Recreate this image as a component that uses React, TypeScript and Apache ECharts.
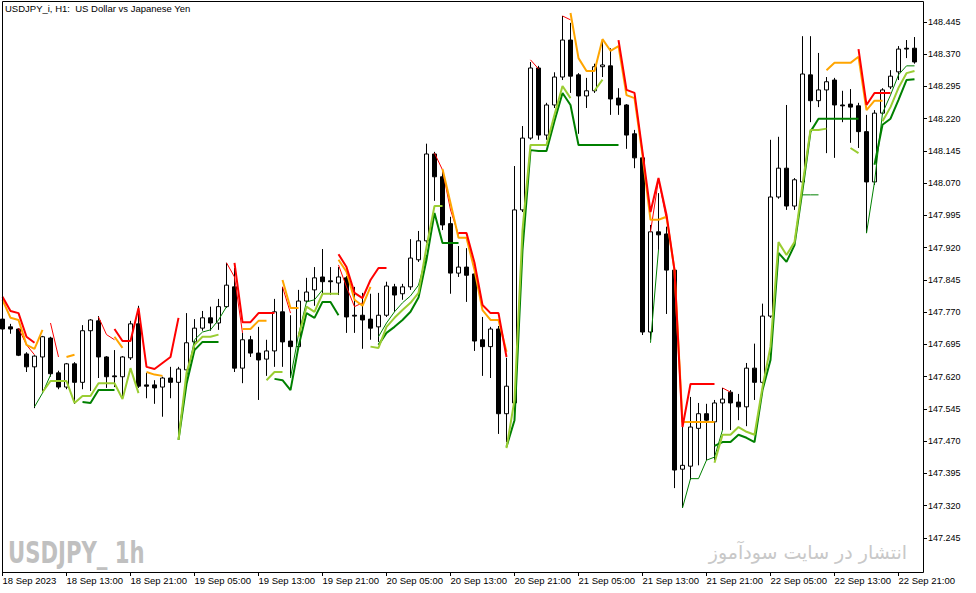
import { useEffect, useRef } from 'react';
import * as echarts from 'echarts';

// time axis labels (every 8th hourly bar)
const tickLabels = [
  '18 Sep 2023', '18 Sep 13:00', '18 Sep 21:00', '19 Sep 05:00', '19 Sep 13:00',
  '19 Sep 21:00', '20 Sep 05:00', '20 Sep 13:00', '20 Sep 21:00', '21 Sep 05:00',
  '21 Sep 13:00', '21 Sep 21:00', '22 Sep 05:00', '22 Sep 13:00', '22 Sep 21:00',
];

const priceTicks = [
  147.245, 147.32, 147.395, 147.47, 147.545, 147.62, 147.695, 147.77, 147.845,
  147.92, 147.995, 148.07, 148.145, 148.22, 148.295, 148.37, 148.445,
];

const opens = [
  147.754, 147.736, 147.731, 147.673, 147.643, 147.666, 147.710, 147.629, 147.596, 147.650,
  147.607, 147.727, 147.750, 147.666, 147.622, 147.620, 147.664, 147.743, 147.601, 147.601,
  147.596, 147.617, 147.607, 147.636, 147.701, 147.733, 147.757, 147.745, 147.783, 147.829,
  147.640, 147.706, 147.675, 147.661, 147.680, 147.771, 147.703, 147.690, 147.796, 147.822,
  147.852, 147.843, 147.838, 147.850, 147.763, 147.763, 147.754, 147.736, 147.763, 147.829,
  147.813, 147.829, 147.892, 147.936, 148.138, 148.085, 147.976, 147.861, 147.875, 147.859,
  147.706, 147.690, 147.731, 147.534, 147.559, 148.008, 148.175, 148.338, 148.182, 148.252,
  148.317, 148.403, 148.322, 148.273, 148.285, 148.341, 148.343, 148.268, 148.252, 148.185,
  148.129, 147.724, 147.957, 147.952, 147.868, 147.405, 147.412, 147.500, 147.534, 147.515,
  147.559, 147.584, 147.561, 147.550, 147.640, 147.607, 147.761, 148.038, 148.105, 148.017,
  148.073, 148.322, 148.262, 148.287, 148.310, 148.252, 148.254, 148.250, 148.190, 148.073,
  148.233, 148.294, 148.329, 148.384, 148.384,
];

const closes = [
  147.731, 147.731, 147.670, 147.643, 147.668, 147.713, 147.627, 147.596, 147.650, 147.607,
  147.727, 147.752, 147.666, 147.620, 147.620, 147.666, 147.743, 147.598, 147.598, 147.594,
  147.617, 147.607, 147.638, 147.699, 147.733, 147.757, 147.745, 147.783, 147.833, 147.640,
  147.706, 147.675, 147.659, 147.680, 147.771, 147.701, 147.690, 147.796, 147.817, 147.850,
  147.841, 147.841, 147.852, 147.759, 147.761, 147.752, 147.733, 147.763, 147.831, 147.810,
  147.829, 147.896, 147.936, 148.138, 148.085, 147.973, 147.861, 147.875, 147.856, 147.703,
  147.690, 147.731, 147.534, 147.598, 148.008, 148.175, 148.338, 148.182, 148.252, 148.317,
  148.403, 148.319, 148.273, 148.285, 148.341, 148.345, 148.266, 148.252, 148.182, 148.129,
  147.724, 147.957, 147.950, 147.868, 147.403, 147.414, 147.503, 147.534, 147.519, 147.559,
  147.568, 147.559, 147.550, 147.640, 147.607, 147.761, 148.038, 148.105, 148.017, 148.078,
  148.324, 148.262, 148.287, 148.306, 148.252, 148.250, 148.247, 148.190, 148.073, 148.233,
  148.287, 148.319, 148.382, 148.382, 148.352,
];

const lows = [
  147.724, 147.720, 147.668, 147.631, 147.547, 147.584, 147.620, 147.591, 147.591, 147.557,
  147.591, 147.587, 147.617, 147.594, 147.596, 147.573, 147.659, 147.594, 147.570, 147.557,
  147.527, 147.570, 147.473, 147.634, 147.682, 147.727, 147.727, 147.729, 147.780, 147.631,
  147.605, 147.666, 147.566, 147.622, 147.643, 147.643, 147.620, 147.682, 147.792, 147.785,
  147.810, 147.810, 147.810, 147.722, 147.722, 147.685, 147.706, 147.701, 147.759, 147.771,
  147.799, 147.822, 147.887, 147.931, 148.029, 147.961, 147.813, 147.852, 147.794, 147.680,
  147.622, 147.617, 147.487, 147.468, 147.543, 148.003, 148.171, 148.171, 148.171, 148.245,
  148.310, 148.280, 148.185, 148.245, 148.280, 148.317, 148.229, 148.229, 148.150, 148.105,
  147.717, 147.706, 147.915, 147.766, 147.361, 147.315, 147.380, 147.414, 147.426, 147.426,
  147.496, 147.496, 147.519, 147.505, 147.566, 147.601, 147.757, 148.034, 148.008, 148.008,
  148.066, 148.212, 148.247, 148.140, 148.129, 148.212, 148.164, 148.152, 147.954, 148.066,
  148.229, 148.289, 148.310, 148.361, 148.348,
];

const highs = [
  147.763, 147.743, 147.733, 147.677, 147.670, 147.715, 147.713, 147.634, 147.652, 147.654,
  147.740, 147.754, 147.761, 147.668, 147.682, 147.668, 147.750, 147.785, 147.629, 147.612,
  147.620, 147.643, 147.643, 147.768, 147.754, 147.773, 147.783, 147.801, 147.885, 147.873,
  147.722, 147.715, 147.736, 147.706, 147.801, 147.829, 147.763, 147.822, 147.850, 147.875,
  147.917, 147.875, 147.875, 147.854, 147.829, 147.815, 147.813, 147.815, 147.841, 147.836,
  147.836, 147.940, 147.959, 148.162, 148.143, 148.101, 147.992, 147.924, 147.919, 147.875,
  147.759, 147.736, 147.738, 147.664, 148.110, 148.203, 148.352, 148.343, 148.257, 148.328,
  148.459, 148.443, 148.326, 148.315, 148.348, 148.403, 148.384, 148.291, 148.254, 148.194,
  148.135, 147.973, 148.047, 147.969, 147.873, 147.503, 147.573, 147.559, 147.557, 147.566,
  147.594, 147.589, 147.580, 147.652, 147.697, 147.790, 148.171, 148.178, 148.252, 148.082,
  148.412, 148.412, 148.373, 148.317, 148.315, 148.285, 148.289, 148.257, 148.229, 148.240,
  148.291, 148.333, 148.389, 148.403, 148.410,
];

// indicator segments: [first bar index, values...]
const redThick: [number, number[]][] = [
  [0, [147.806, 147.773, 147.768, 147.713, 147.699]],
  [14, [147.731, 147.703, 147.703, 147.780, 147.643, 147.638, 147.652, 147.666, 147.757]],
  [29, [147.885, 147.747, 147.747, 147.768, 147.768, 147.768]],
  [42, [147.905, 147.875, 147.815, 147.803, 147.845, 147.873, 147.873]],
  [57, [147.954, 147.954, 147.885, 147.787, 147.768, 147.768, 147.666]],
  [77, [148.403, 148.287, 148.280, 148.143, 148.003, 148.082, 147.997, 147.868, 147.503, 147.603, 147.603, 147.603, 147.603]],
  [107, [148.382, 148.252, 148.280, 148.280, 148.280]],
];

const orangeThick: [number, number[]][] = [
  [0, [147.799, 147.757, 147.752, 147.694, 147.685, 147.729]],
  [8, [147.666, 147.671]],
  [14, [147.713, 147.687]],
  [18, [147.631, 147.625, 147.622]],
  [30, [147.731, 147.731, 147.750, 147.750]],
  [35, [147.845, 147.780, 147.780]],
  [42, [147.892, 147.864, 147.799, 147.785, 147.829]],
  [55, [148.103, 148.024, 147.943, 147.943, 147.868, 147.775, 147.752, 147.752, 147.678]],
  [71, [148.466, 148.361, 148.331, 148.331, 148.405, 148.378, 148.389, 148.275, 148.268, 148.135,
    147.985, 147.985, 147.992, 147.868, 147.515, 147.515, 147.515, 147.515, 147.515]],
  [103, [148.333, 148.350, 148.350, 148.350, 148.364, 148.240, 148.262, 148.262]],
];

const redThin: [number, number[]][] = [
  [2, [147.733, 147.694, 147.671]],
  [6, [147.745, 147.666]],
  [12, [147.759, 147.718, 147.706]],
  [28, [147.885, 147.852, 147.722]],
  [35, [147.829, 147.768]],
  [42, [147.880, 147.829, 147.783, 147.792]],
  [54, [148.140, 148.101, 148.008, 147.950]],
  [66, [148.357, 148.336]],
  [70, [148.459, 148.450]],
  [81, [147.957, 148.078, 147.985]],
  [90, [147.594, 147.584]],
];

const greenThick: [number, number[]][] = [
  [10, [147.561, 147.559, 147.589, 147.589, 147.589]],
  [22, [147.473, 147.603, 147.682, 147.701, 147.701, 147.701]],
  [34, [147.615, 147.612, 147.589, 147.690, 147.768, 147.757, 147.794, 147.794, 147.763]],
  [47, [147.694, 147.722, 147.736, 147.752, 147.771, 147.804, 147.892, 148.001, 147.931, 147.931, 147.931]],
  [63, [147.457, 147.519, 147.915, 148.147, 148.145, 148.145, 148.215, 148.280, 148.252,
    148.159, 148.159, 148.159, 148.159, 148.159, 148.159]],
  [89, [147.459, 147.468, 147.468, 147.485, 147.478, 147.468, 147.589, 147.659, 147.908, 147.887,
    147.926, 148.054, 148.190, 148.220, 148.220, 148.220, 148.220, 148.220, 148.220]],
  [109, [148.113, 148.206, 148.220, 148.264, 148.310, 148.312]],
];

const limeThick: [number, number[]][] = [
  [5, [147.584, 147.610, 147.610, 147.610, 147.559, 147.575, 147.575, 147.605, 147.605, 147.605, 147.568, 147.640, 147.582]],
  [22, [147.473, 147.629, 147.694, 147.713, 147.713, 147.718]],
  [33, [147.612, 147.631, 147.631]],
  [37, [147.713, 147.783, 147.771, 147.813, 147.813, 147.813]],
  [46, [147.690, 147.687, 147.736, 147.757, 147.775, 147.792, 147.815, 147.922, 148.017, 148.017]],
  [63, [147.454, 147.566, 147.961, 148.159, 148.159, 148.159, 148.229, 148.296, 148.268]],
  [74, [148.285, 148.311]],
  [89, [147.420, 147.485, 147.485, 147.503, 147.492, 147.485, 147.596, 147.690, 147.933, 147.903,
    147.933, 148.066, 148.194, 148.194, 148.197]],
  [106, [148.152, 148.140]],
  [110, [148.214, 148.247, 148.292, 148.326, 148.331]],
];

const greenThin: [number, number[]][] = [
  [4, [147.550, 147.582, 147.624]],
  [22, [147.485, 147.617, 147.706, 147.724, 147.729, 147.752, 147.783]],
  [36, [147.617, 147.718, 147.794, 147.799, 147.822]],
  [47, [147.713, 147.745, 147.771, 147.792, 147.808, 147.833, 147.903]],
  [81, [147.699, 147.915]],
  [85, [147.315, 147.383, 147.383, 147.426, 147.433, 147.496]],
  [100, [148.043, 148.043, 148.043]],
  [108, [147.954, 148.073, 148.233, 148.275, 148.322, 148.343, 148.343]],
];

const AXIS_FONT = '"Liberation Sans", Arial, sans-serif';

function fromSegments(segs: [number, number[]][]) {
  const out: (number | null)[] = opens.map(() => null);
  segs.forEach(([start, vals]) => {
    vals.forEach((v, k) => {
      out[start + k] = v;
    });
  });
  return out;
}

function lineSeries(name: string, segs: [number, number[]][], color: string, width: number) {
  return {
    name,
    type: 'line' as const,
    data: fromSegments(segs),
    symbol: 'none',
    connectNulls: false,
    lineStyle: { color, width },
    z: 3,
  };
}

export default function App() {
  const chartRef = useRef<HTMLDivElement>(null);

  useEffect(() => {
    if (!chartRef.current) return;
    const chart = echarts.init(chartRef.current, undefined, { renderer: 'svg' });

    const categories = opens.map((_, i) => {
      const h = 5 + i;
      const day = 18 + Math.floor(h / 24);
      return `${day} Sep ${String(h % 24).padStart(2, '0')}:00`;
    });

    const option: echarts.EChartsOption = {
      animation: false,
      backgroundColor: '#ffffff',
      grid: {
        left: -1.5,
        top: 1,
        width: 920,
        height: 571,
        outerBoundsMode: 'none',
      } as any,
      xAxis: {
        type: 'category',
        data: categories,
        boundaryGap: true,
        axisLine: { show: false },
        axisTick: {
          show: true,
          alignWithLabel: true,
          interval: (i: number) => i % 8 === 0,
          length: 4,
          lineStyle: { color: '#000' },
        },
        axisLabel: {
          interval: (i: number) => i % 8 === 0,
          formatter: (_v: string, i: number) => tickLabels[i / 8] ?? '',
          align: 'left',
          margin: 3,
          color: '#000',
          fontSize: 9.5,
          fontFamily: AXIS_FONT,
        },
        splitLine: { show: false },
      },
      yAxis: {
        type: 'value',
        position: 'right',
        offset: 4.5,
        min: 147.1659,
        max: 148.4938,
        axisLine: { show: false },
        axisTick: {
          show: true,
          length: 4,
          customValues: priceTicks,
          lineStyle: { color: '#000' },
        },
        axisLabel: {
          customValues: priceTicks,
          formatter: (v: number) => v.toFixed(3),
          margin: 5,
          color: '#000',
          fontSize: 9,
          fontFamily: AXIS_FONT,
        },
        splitLine: { show: false },
      } as any,
      graphic: [
        {
          type: 'rect',
          silent: true,
          z: 100,
          shape: { x: 2.5, y: 1.5, width: 921, height: 571 },
          style: { fill: 'none', stroke: '#000', lineWidth: 1 },
        },
        {
          type: 'text',
          silent: true,
          x: 5,
          y: 3,
          z: 100,
          style: {
            text: 'USDJPY_i, H1:  US Dollar vs Japanese Yen',
            fill: '#000',
            fontSize: 9.5,
            fontFamily: AXIS_FONT,
            verticalAlign: 'top',
          },
        },
        {
          type: 'text',
          silent: true,
          x: 8,
          y: 552,
          scaleX: 0.76,
          z: 100,
          style: {
            text: 'USDJPY_ 1h',
            fill: '#c0c0c0',
            fontSize: 31,
            fontWeight: 'bold',
            fontFamily: '"Liberation Sans Narrow", "DejaVu Sans Condensed", sans-serif',
            verticalAlign: 'middle',
          },
        },
        {
          type: 'text',
          silent: true,
          x: 907,
          y: 552,
          z: 100,
          style: {
            text: 'انتشار در سایت سودآموز',
            fill: '#c8c8c8',
            fontSize: 19,
            fontFamily: '"DejaVu Sans", sans-serif',
            align: 'right',
            verticalAlign: 'middle',
          },
        },
      ] as any,
      series: [
        {
          name: 'USDJPY',
          type: 'candlestick',
          data: opens.map((o, i) => [o, closes[i], lows[i], highs[i]]),
          barWidth: 4,
          itemStyle: {
            color: '#ffffff',
            color0: '#000000',
            borderColor: '#000000',
            borderColor0: '#000000',
            borderWidth: 1,
          },
          z: 2,
        },
        lineSeries('greenThin', greenThin, '#008000', 1),
        lineSeries('redThin', redThin, '#ff0000', 1),
        lineSeries('greenThick', greenThick, '#008000', 2),
        lineSeries('limeThick', limeThick, '#9acd32', 2),
        lineSeries('orangeThick', orangeThick, '#ffa500', 2),
        lineSeries('redThick', redThick, '#ff0000', 2),
      ] as any,
    };

    chart.setOption(option);

    const handleResize = () => chart.resize();
    window.addEventListener('resize', handleResize);
    return () => {
      window.removeEventListener('resize', handleResize);
      chart.dispose();
    };
  }, []);

  return (
    <div
      ref={chartRef}
      style={{ position: 'fixed', left: 0, top: 0, width: '976px', height: '593px', background: '#fff' }}
    />
  );
}
